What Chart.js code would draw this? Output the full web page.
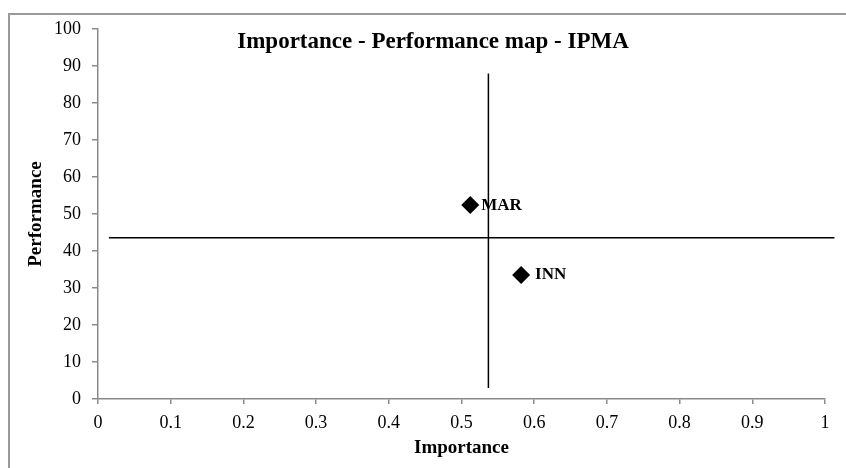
<!DOCTYPE html>
<html>
<head>
<meta charset="utf-8">
<script src="https://cdn.jsdelivr.net/npm/chart.js@4/dist/chart.umd.min.js"></script>
<style>
  html, body { margin: 0; padding: 0; background: #fff; overflow: hidden; }
  #wrap { position: relative; width: 846px; height: 468px; }
  #frame { position: absolute; left: 8px; top: 13px; width: 900px; height: 500px; border: 2px solid #9a9a9a; box-sizing: border-box; }
  canvas { position: absolute; left: 0; top: 0; }
</style>
</head>
<body>
<div id="wrap">
  <div id="frame"></div>
  <canvas id="c" width="846" height="468"></canvas>
</div>
<script>
// ---- data ----
const constructs = ['MAR', 'INN'];
const importance = [0.512, 0.582];
const performance = [52.4, 33.5];
const meanImportance = 0.537;       // vertical reference line
const meanPerformance = 43.6;       // horizontal reference line
const vLineRange = [3, 88];         // performance extent of vertical line
const hLineRange = [0.015, 1.013];  // importance extent of horizontal line
const chartTitle = 'Importance - Performance map - IPMA';
const xTitle = 'Importance';
const yTitle = 'Performance';

const serif = "'Liberation Serif', 'Times New Roman', serif";

const points = constructs.map((n, i) => ({ x: importance[i], y: performance[i], label: n }));

const labelPlugin = {
  id: 'labels',
  afterDatasetsDraw(chart) {
    const ctx = chart.ctx;
    const xs = chart.scales.x, ys = chart.scales.y;
    ctx.save();
    ctx.fillStyle = '#000';
    ctx.font = 'bold 17px ' + serif;
    ctx.textBaseline = 'middle';
    ctx.textAlign = 'left';
    points.forEach((p, i) => {
      const px = xs.getPixelForValue(p.x), py = ys.getPixelForValue(p.y);
      ctx.fillText(p.label, px + (i === 0 ? 11 : 14), py);
    });
    // chart title drawn inside the plot area
    ctx.font = 'bold 23px ' + serif;
    ctx.textAlign = 'center';
    ctx.fillText(chartTitle, 433, 42);
    ctx.restore();
  }
};

const fmt = v => String(+Number(v).toFixed(1));

new Chart(document.getElementById('c'), {
  type: 'scatter',
  data: {
    datasets: [
      {
        label: 'constructs',
        data: points,
        pointStyle: 'rectRot',
        pointRadius: 9,
        pointHoverRadius: 9,
        backgroundColor: '#000',
        borderColor: '#000',
        borderWidth: 0
      },
      {
        label: 'meanV',
        data: [{ x: meanImportance, y: vLineRange[0] }, { x: meanImportance, y: vLineRange[1] }],
        showLine: true,
        pointRadius: 0,
        borderColor: '#000',
        borderWidth: 1.5,
        clip: false
      },
      {
        label: 'meanH',
        data: [{ x: hLineRange[0], y: meanPerformance }, { x: hLineRange[1], y: meanPerformance }],
        showLine: true,
        pointRadius: 0,
        borderColor: '#000',
        borderWidth: 1.5,
        clip: false
      }
    ]
  },
  options: {
    responsive: false,
    animation: false,
    events: [],
    layout: { padding: { left: 0, right: 21, top: 29, bottom: 0 } },
    plugins: {
      legend: { display: false },
      tooltip: { enabled: false },
      title: { display: false }
    },
    scales: {
      x: {
        type: 'linear',
        min: 0, max: 1,
        ticks: { stepSize: 0.1, color: '#000', font: { family: serif, size: 18 }, padding: 8, maxRotation: 0, callback: fmt },
        grid: { display: true, drawOnChartArea: false, drawTicks: true, tickLength: 5, color: '#8a8a8a', lineWidth: 1.5 },
        border: { display: true, color: '#8a8a8a', width: 1.5 },
        title: { display: true, text: xTitle, color: '#000', font: { family: serif, size: 19, weight: 'bold' }, padding: { top: 0, bottom: 9 } },
        afterFit(scale) { scale.height = 69; }
      },
      y: {
        type: 'linear',
        min: 0, max: 100,
        ticks: { stepSize: 10, color: '#000', font: { family: serif, size: 18 }, padding: 11, callback: fmt },
        grid: { display: true, drawOnChartArea: false, drawTicks: true, tickLength: 6, color: '#8a8a8a', lineWidth: 1.5 },
        border: { display: true, color: '#8a8a8a', width: 1.5 },
        title: { display: true, text: yTitle, color: '#000', font: { family: serif, size: 19, weight: 'bold' }, padding: { top: 25, bottom: 0 } },
        afterFit(scale) { scale.width = 98; }
      }
    }
  },
  plugins: [labelPlugin]
});
</script>
</body>
</html>
